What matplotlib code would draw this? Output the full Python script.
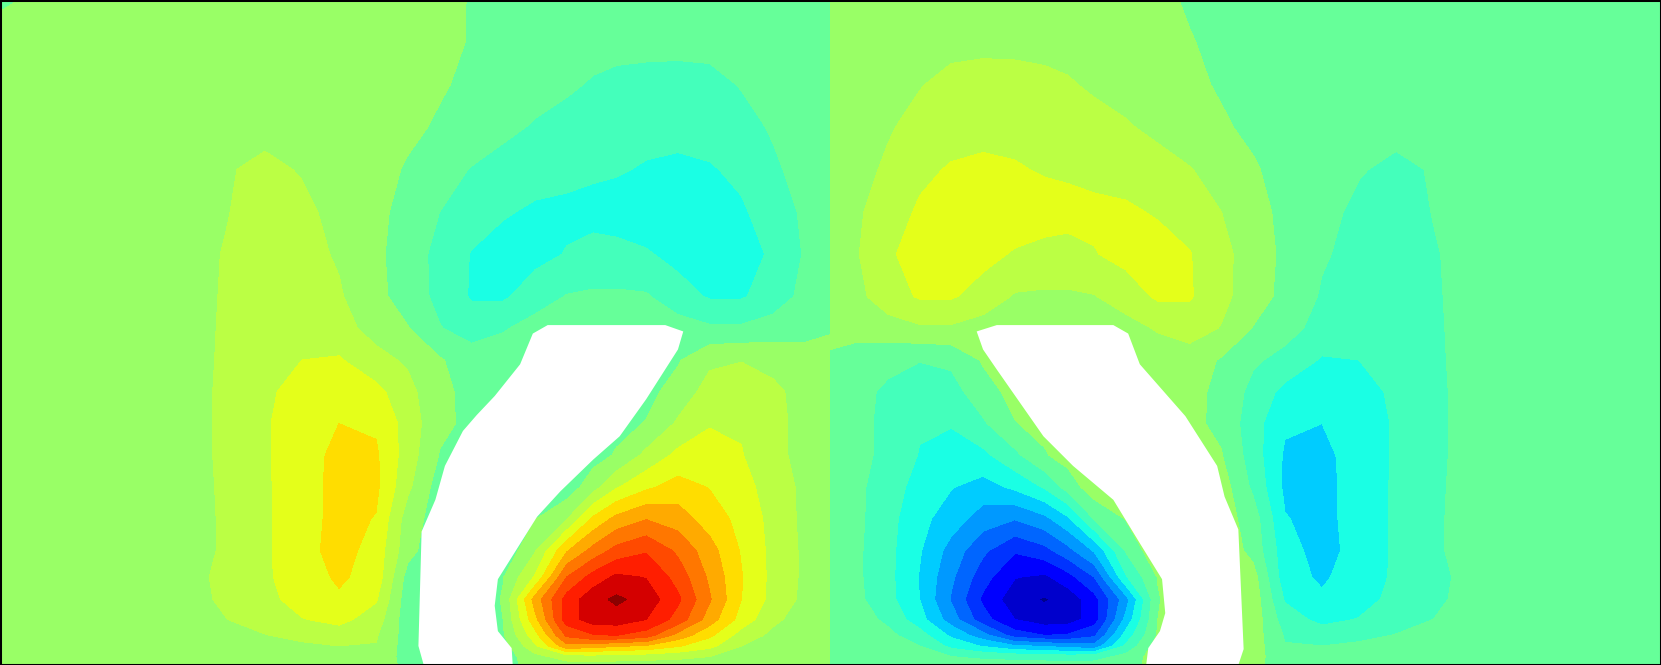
#!/usr/bin/env python3

import numpy as np
import matplotlib
matplotlib.use("Agg")
import matplotlib.pyplot as plt

# band edges and the colour of each band, blue side first
levels = list(range(-10, 11))
band_colors = ["#00008b", "#0000cc", "#0000ff", "#0033ff", "#0066ff", "#0099ff", "#00ccff", "#1affe4", "#44ffbb", "#66ff99",
               "#99ff66", "#bbff44", "#e4ff1a", "#ffdd00", "#ffaa00", "#ff7700", "#ff4a00", "#ff1e00", "#d40000", "#8b0000"]

y_grid = [0, 40, 80, 120, 160, 200, 240, 280, 310, 340, 370, 400, 430, 460, 490, 520, 545, 566, 585, 600, 610, 620, 628]

# left half of the field
x_left = [0, 60, 120, 180, 215, 250, 285, 320, 355, 385, 415, 445, 475, 505, 535, 560, 582, 610, 640, 670, 700, 730, 760, 784]
z_left = [
    [-.25, .6, .6, .6, .6, .6, .6, .6, .55, .5, .25, -.05, -.2, -.3, -.35, -.4, -.4, -.45, -.45, -.45, -.45, -.4, -.4, -.4],
    [.65, .65, .65, .65, .7, .7, .7, .7, .6, .45, .2, -.05, -.25, -.4, -.55, -.65, -.7, -.7, -.7, -.75, -.6, -.5, -.45, -.4],
    [.7, .7, .7, .7, .7, .7, .7, .7, .55, .35, .1, -.2, -.4, -.6, -.85, -1.1, -1.25, -1.35, -1.4, -1.25, -.95, -.7, -.5, -.4],
    [.7, .7, .7, .7, .75, .8, .8, .75, .5, .2, -.12, -.4, -.75, -1.1, -1.35, -1.5, -1.6, -1.65, -1.7, -1.55, -1.3, -.9, -.55, -.4],
    [.6, .65, .7, .8, .95, 1.15, .95, .7, .35, -.1, -.6, -1.05, -1.4, -1.6, -1.75, -1.85, -1.9, -2.1, -2.2, -2.1, -1.75, -1.15, -.65, -.4],
    [.6, .65, .7, .8, .98, 1.3, 1.15, .8, .25, -.35, -1.0, -1.55, -1.9, -2.15, -2.2, -2.3, -2.45, -2.6, -2.6, -2.4, -2.15, -1.45, -.85, -.4],
    [.6, .65, .7, .8, 1.05, 1.4, 1.3, .9, .2, -.5, -1.3, -2.05, -2.4, -2.3, -1.95, -1.7, -1.7, -1.9, -2.3, -2.6, -2.4, -1.85, -.9, -.4],
    [.6, .65, .7, .78, 1.08, 1.45, 1.4, 1.1, .3, -.5, -1.25, -2.1, -2.15, -1.5, -.95, -.85, -.85, -.9, -1.6, -2.1, -2.1, -1.55, -.7, -.4],
    [.6, .65, .7, .78, 1.1, 1.55, 1.6, 1.35, .65, .05, -.95, -1.4, -1.1, -.6, -.5, -.5, -.5, -.5, -.55, -.85, -.85, -.55, -.4, -.1],
    [.6, .65, .7, .78, 1.12, 1.75, 2.0, 2.1, 1.3, .85, .1, -.55, -.4, -.4, -.4, -.4, -.4, -.3, -.1, .8, .95, .7, .5, .4],
    [.6, .65, .75, .78, 1.15, 1.85, 2.3, 2.6, 2.3, 1.3, .25, -.3, -.4, -.4, -.4, -.4, -.4, -.3, .4, 1.4, 1.7, 1.2, .65, .4],
    [.6, .65, .75, .78, 1.15, 1.9, 2.5, 3.0, 2.85, 1.6, .2, -.2, -.3, -.3, -.3, -.3, -.3, .05, 1.15, 1.9, 1.9, 1.3, .65, .4],
    [.6, .65, .75, .78, 1.15, 1.9, 2.5, 3.3, 3.15, 1.5, -.05, -.3, -.3, -.3, -.3, -.4, .1, 1.25, 2.25, 2.6, 2.05, 1.3, .65, .4],
    [.6, .65, .75, .78, 1.12, 1.85, 2.6, 3.3, 3.2, 1.2, -.5, -.5, -.5, -.5, -.6, .6, 1.9, 2.8, 3.4, 2.95, 2.35, 1.55, .75, .4],
    [.6, .65, .75, .78, 1.1, 1.85, 2.6, 3.3, 2.95, .5, -.5, -.5, -.5, -.05, .95, 3.2, 4.3, 4.95, 4.5, 3.5, 2.7, 1.65, .75, .4],
    [.6, .65, .75, .78, 1.1, 1.85, 2.6, 3.4, 2.6, .35, -.8, -.8, -.8, .9, 3.9, 5.35, 6.35, 6.9, 5.8, 4.4, 2.9, 1.7, .8, .4],
    [.55, .6, .8, .85, 1.15, 1.85, 2.5, 3.15, 2.6, -.4, -1, -1, -.05, 2.1, 6.0, 7.4, 8.2, 7.95, 6.6, 4.8, 3.05, 1.7, .8, .4],
    [.5, .55, .7, .85, 1.1, 1.7, 2.4, 2.85, 2.1, -.6, -1, -1, .1, 4.4, 7.4, 8.65, 9.2, 8.6, 7.2, 5.1, 3.0, 1.65, .75, .35],
    [.5, .55, .7, .8, 1.0, 1.5, 1.95, 2.3, 1.5, -.6, -1, -1, 0, 3.7, 7.5, 8.5, 8.55, 8.0, 6.6, 4.5, 2.6, 1.2, .55, .3],
    [.5, .5, .6, .7, .8, .95, 1.3, 1.45, 1.1, -.5, -1, -1, -.1, 2.6, 6.2, 6.9, 7.0, 6.5, 4.6, 3.2, 1.55, .75, .45, .3],
    [.5, .5, .55, .6, .65, .7, .8, 1.0, .95, -.5, -1, -1, -.5, 1.8, 4.7, 4.5, 4.1, 3.9, 3.1, 2.3, 1.0, .6, .4, .3],
    [.5, .5, .5, .5, .55, .6, .65, .7, .75, -.45, -1, -1, -.5, .65, 1.5, 1.6, 1.5, 1.4, 1.25, 1.0, .6, .45, .35, .3],
    [.5, .5, .5, .5, .5, .5, .5, .5, .6, -.3, -.8, -.8, -.3, .3, .55, .55, .55, .5, .5, .45, .4, .35, .3, .3],
]

# right half of the field
x_right = [784, 808, 838, 868, 898, 928, 958, 986, 1008, 1033, 1063, 1093, 1123, 1153, 1183, 1213, 1248, 1283, 1318, 1353, 1388, 1448, 1508, 1568]
z_right = [
    [.4, .4, .4, .45, .45, .45, .45, .4, .4, .35, .3, .2, -.1, -.25, -.5, -.55, -.6, -.6, -.6, -.6, -.6, -.6, -.6, -.6],
    [.4, .45, .5, .6, .75, .75, .75, .7, .65, .55, .4, .25, .05, -.2, -.45, -.6, -.7, -.7, -.7, -.7, -.65, -.65, -.65, -.65],
    [.4, .5, .7, .95, 1.25, 1.4, 1.35, 1.25, 1.1, .85, .6, .4, .2, -.1, -.35, -.55, -.7, -.7, -.7, -.7, -.7, -.7, -.7, -.7],
    [.4, .55, .9, 1.3, 1.55, 1.7, 1.65, 1.6, 1.5, 1.35, 1.1, .75, .4, .12, -.2, -.5, -.75, -.8, -.8, -.75, -.7, -.7, -.7, -.7],
    [.4, .65, 1.15, 1.75, 2.1, 2.2, 2.1, 1.9, 1.85, 1.75, 1.6, 1.4, 1.05, .6, .1, -.35, -.7, -.95, -1.15, -.95, -.8, -.7, -.65, -.6],
    [.4, .85, 1.45, 2.15, 2.4, 2.6, 2.6, 2.45, 2.3, 2.2, 2.15, 1.9, 1.55, 1.0, .35, -.25, -.8, -1.15, -1.3, -.98, -.8, -.7, -.65, -.6],
    [.4, .9, 1.85, 2.4, 2.6, 2.3, 1.9, 1.7, 1.7, 1.95, 2.3, 2.4, 2.05, 1.3, .5, -.2, -.9, -1.3, -1.4, -1.05, -.8, -.7, -.65, -.6],
    [.4, .7, 1.55, 2.1, 2.1, 1.6, .9, .85, .85, .95, 1.5, 2.15, 2.1, 1.25, .5, -.3, -1.1, -1.4, -1.45, -1.08, -.78, -.7, -.65, -.6],
    [.3, .4, .55, .85, .85, .55, .5, .5, .5, .5, .6, 1.1, 1.4, .95, -.05, -.65, -1.35, -1.6, -1.55, -1.1, -.78, -.7, -.65, -.6],
    [-.15, -.5, -.7, -.95, -.8, .1, .3, .4, .4, .4, .4, .4, .55, -.1, -.85, -1.3, -2.1, -2.0, -1.75, -1.12, -.78, -.7, -.65, -.6],
    [-.4, -.65, -1.2, -1.7, -1.4, -.4, .3, .4, .4, .4, .4, .4, .3, -.25, -1.3, -2.3, -2.6, -2.3, -1.85, -1.15, -.78, -.75, -.65, -.6],
    [-.4, -.65, -1.3, -1.9, -1.9, -1.15, -.05, .3, .3, .3, .3, .3, .2, -.2, -1.6, -2.85, -3.0, -2.5, -1.9, -1.15, -.78, -.75, -.65, -.6],
    [-.4, -.65, -1.3, -2.05, -2.6, -2.25, -1.25, -.1, .4, .3, .3, .3, .3, .05, -1.5, -3.15, -3.3, -2.5, -1.9, -1.15, -.78, -.75, -.65, -.6],
    [-.4, -.75, -1.55, -2.35, -2.95, -3.4, -2.8, -1.9, -.6, .6, .5, .5, .5, .5, -1.2, -3.2, -3.3, -2.6, -1.85, -1.12, -.78, -.75, -.65, -.6],
    [-.4, -.75, -1.65, -2.7, -3.5, -4.5, -4.95, -4.3, -3.2, -.95, .05, .5, .5, .5, -.5, -2.95, -3.3, -2.6, -1.85, -1.1, -.78, -.75, -.65, -.6],
    [-.4, -.8, -1.7, -2.9, -4.4, -5.8, -6.9, -6.35, -5.35, -3.9, -.9, .8, .8, .8, -.35, -2.6, -3.4, -2.6, -1.85, -1.1, -.78, -.75, -.65, -.6],
    [-.4, -.8, -1.7, -3.05, -4.8, -6.6, -7.95, -8.2, -7.4, -6.0, -2.1, .05, 1, 1, .4, -2.6, -3.15, -2.5, -1.85, -1.15, -.85, -.8, -.6, -.55],
    [-.35, -.75, -1.65, -3.0, -5.1, -7.2, -8.6, -9.1, -8.65, -7.4, -4.4, -.1, 1, 1, .6, -2.1, -2.85, -2.4, -1.7, -1.1, -.85, -.7, -.55, -.5],
    [-.3, -.55, -1.2, -2.6, -4.5, -6.6, -8.0, -8.55, -8.5, -7.5, -3.7, 0, 1, 1, .6, -1.5, -2.3, -1.95, -1.5, -1.0, -.8, -.7, -.55, -.5],
    [-.3, -.45, -.75, -1.55, -3.2, -4.6, -6.5, -7.0, -6.9, -6.2, -2.6, .1, 1, 1, .5, -1.1, -1.45, -1.3, -.95, -.8, -.7, -.6, -.5, -.5],
    [-.3, -.4, -.6, -1.0, -2.3, -3.1, -3.9, -4.1, -4.5, -4.7, -1.8, .5, 1, 1, .5, -.95, -1.0, -.8, -.7, -.65, -.6, -.55, -.5, -.5],
    [-.3, -.35, -.45, -.6, -1.0, -1.25, -1.4, -1.5, -1.6, -1.5, -.65, .5, 1, 1, .45, -.75, -.7, -.65, -.6, -.55, -.5, -.5, -.5, -.5],
    [-.3, -.3, -.35, -.4, -.45, -.5, -.5, -.55, -.55, -.55, -.3, .3, .8, .8, .3, -.6, -.5, -.5, -.5, -.5, -.5, -.5, -.5, -.5],
]

# outlines of the two blank regions
hole_left_x = [517, 628, 645, 640, 610, 585, 560, 529, 507, 470, 467, 470, 483, 484, 400, 395, 398, 411, 420, 437, 450, 467, 491, 503]
hole_left_y = [307, 307, 313, 330, 377, 412, 434, 464, 488, 547, 572, 596, 612, 628, 628, 610, 502, 472, 440, 407, 392, 374, 344, 315]
hole_right_x = [941, 1051, 1065, 1076, 1119, 1149, 1156, 1169, 1174, 1169, 1082, 1084, 1095, 1100, 1097, 1076, 1051, 1013, 985, 941, 928, 922]
hole_right_y = [307, 307, 315, 344, 393, 440, 469, 500, 613, 628, 628, 612, 596, 579, 547, 513, 472, 440, 412, 349, 330, 313]

fig = plt.figure(figsize=(16.61, 6.65), dpi=100)
ax = fig.add_axes([0, 0, 1, 1])

ax.contourf(x_left, y_grid, np.array(z_left), levels=levels, colors=band_colors)
ax.contourf(x_right, y_grid, np.array(z_right), levels=levels, colors=band_colors)
ax.fill(hole_left_x, hole_left_y, color="white", lw=0, zorder=3)
ax.fill(hole_right_x, hole_right_y, color="white", lw=0, zorder=3)

ax.set_xlim(0, 1568)
ax.set_ylim(628, 0)
ax.set_xticks([])
ax.set_yticks([])
for spine in ax.spines.values():
    spine.set_linewidth(2.2)
    spine.set_color("black")
    spine.set_zorder(5)

plt.savefig("out.png", dpi=100)
plt.close()
